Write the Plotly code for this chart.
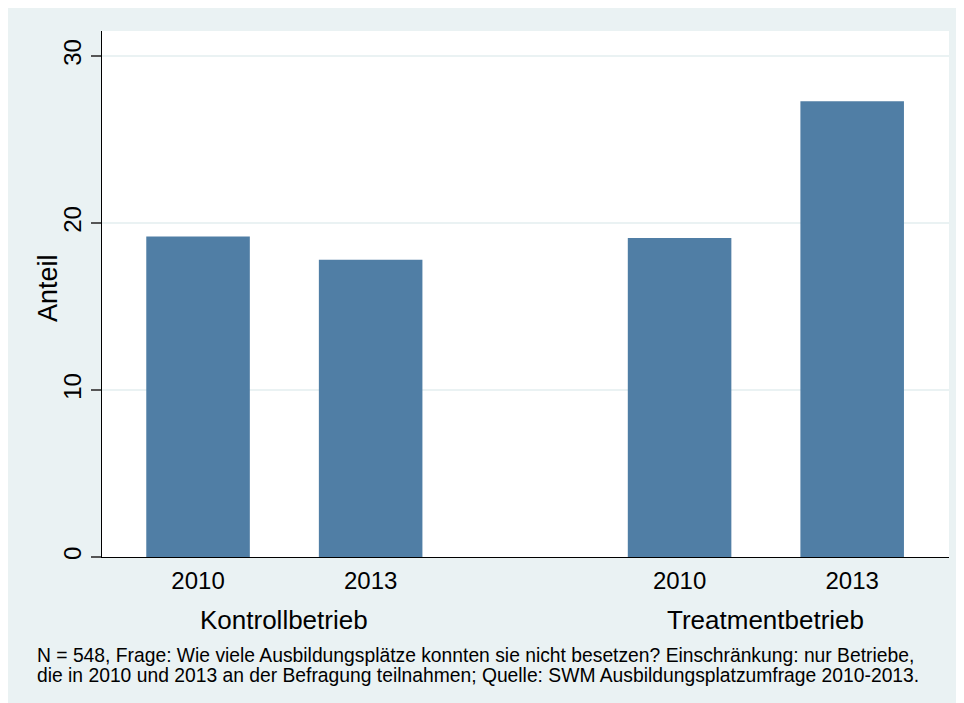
import plotly.graph_objects as go

# ---- data ----
groups = ["Kontrollbetrieb", "Treatmentbetrieb"]
years = ["2010", "2013"]
kontroll_values = [19.2, 17.8]
treatment_values = [19.1, 27.3]
y_ticks = [0, 10, 20, 30]
y_title = "Anteil"
note_lines = [
    "N = 548, Frage: Wie viele Ausbildungsplätze konnten sie nicht besetzen? Einschränkung: nur Betriebe,",
    "die in 2010 und 2013 an der Befragung teilnahmen; Quelle: SWM Ausbildungsplatzumfrage 2010-2013.",
]
series = {"Kontrollbetrieb": kontroll_values, "Treatmentbetrieb": treatment_values}

# ---- layout constants ----
W, H = 956, 695
L, R, T, B = 94, 15, 23, 146
PW, PH = W - L - R, H - T - B
GROUP_GAP = 2.79
BAR_W = 0.6
FONT = "Liberation Sans, Arial, Helvetica, sans-serif"
BAR_COLOR = "#507EA5"
BG = "#EAF2F3"


def px_x(px):
    return (px - L) / PW


def px_y(py):
    return (H - B - py) / PH


xs, ys, tick_text = [], [], []
for g, grp in enumerate(groups):
    for j, yr in enumerate(years):
        xs.append(g * GROUP_GAP + j)
        ys.append(series[grp][j])
        tick_text.append(yr)

fig = go.Figure(
    go.Bar(
        x=xs,
        y=ys,
        width=BAR_W,
        marker=dict(color=BAR_COLOR, line=dict(width=0)),
        hoverinfo="x+y",
    )
)

x_left = -0.5565
x_right = 4.351

fig.update_layout(
    width=W,
    height=H,
    margin=dict(l=L, r=R, t=T, b=B, pad=0),
    paper_bgcolor=BG,
    plot_bgcolor="white",
    showlegend=False,
    font=dict(family=FONT, color="black"),
    xaxis=dict(
        range=[x_left, x_right],
        tickvals=xs,
        ticktext=tick_text,
        ticks="",
        showgrid=False,
        zeroline=False,
        showline=True,
        linecolor="black",
        linewidth=1.3,
        tickfont=dict(size=24, family=FONT, color="black"),
        ticklabelstandoff=2,
    ),
    yaxis=dict(
        range=[0, 31.5],
        tickvals=y_ticks,
        ticks="outside",
        ticklen=10,
        tickwidth=1.5,
        tickcolor="#555555",
        tickangle=-90,
        tickfont=dict(size=24, family=FONT, color="black"),
        showgrid=True,
        gridcolor=BG,
        gridwidth=1.5,
        zeroline=False,
        showline=True,
        linecolor="black",
        linewidth=1.3,
        ticklabelstandoff=0,
    ),
)

annotations = []
# y axis title
annotations.append(dict(
    x=px_x(39.5), xref="paper", y=px_y(280.5), yref="paper",
    xanchor="center", yanchor="middle", textangle=-90,
    text=y_title, showarrow=False,
    font=dict(size=27, family=FONT, color="black"),
))
for g, grp in enumerate(groups):
    annotations.append(dict(
        x=g * GROUP_GAP + 0.5, xref="x", y=0, yref="paper",
        yshift=-63, xanchor="center", yanchor="middle",
        text=grp, showarrow=False,
        font=dict(size=26, family=FONT, color="black"),
    ))
for i, line in enumerate(note_lines):
    annotations.append(dict(
        x=px_x(27), xref="paper", y=0, yref="paper",
        yshift=-(98 + 20 * i), xanchor="left", yanchor="middle", align="left",
        text=line, showarrow=False,
        font=dict(size=19.3, family=FONT, color="black"),
    ))
fig.update_layout(annotations=annotations)

fig.write_html("out.html")
